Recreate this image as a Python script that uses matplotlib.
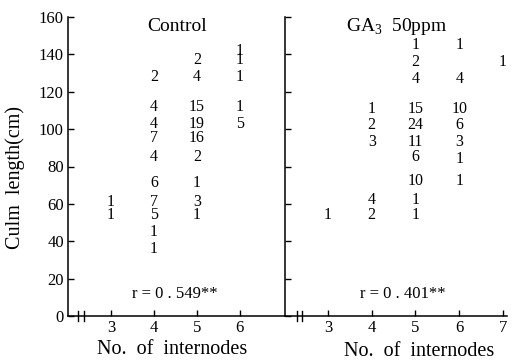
import matplotlib
matplotlib.use("Agg")
import matplotlib.pyplot as plt

plt.rcParams['font.family'] = ['Liberation Serif', 'DejaVu Serif']
plt.rcParams['mathtext.fontset'] = 'custom'
plt.rcParams['mathtext.rm'] = 'Liberation Serif'

# counts of culms per (no. of internodes, culm length class)
ctrl_x = [3, 3,
          4, 4, 4, 4, 4, 4, 4, 4, 4, 4,
          5, 5, 5, 5, 5, 5, 5, 5, 5,
          6, 6, 6, 6, 6]
ctrl_y = [61, 54,
          128, 112, 103, 95, 85, 71, 61, 54, 45, 36,
          137, 128, 112, 103, 95, 85, 71, 61, 54,
          142, 137, 128, 112, 103]
ctrl_n = [1, 1,
          2, 4, 4, 7, 4, 6, 7, 5, 1, 1,
          2, 4, 15, 19, 16, 2, 1, 3, 1,
          1, 1, 1, 1, 5]

ga_x = [3,
        4, 4, 4, 4, 4,
        5, 5, 5, 5, 5, 5, 5, 5, 5, 5,
        6, 6, 6, 6, 6, 6, 6,
        7]
ga_y = [54,
        111, 102, 93, 62, 54,
        145, 136, 127, 111, 102, 93, 85, 72, 62, 54,
        145, 127, 111, 102, 93, 84, 72,
        136]
ga_n = [1,
        1, 2, 3, 4, 2,
        1, 2, 4, 15, 24, 11, 6, 10, 1, 1,
        1, 4, 10, 6, 3, 1, 1,
        1]

y_ticks = [0, 20, 40, 60, 80, 100, 120, 140, 160]
r_ctrl = "r = 0 . 549**"
r_ga = "r = 0 . 401**"

fig = plt.figure(figsize=(5.15, 3.61), dpi=100)
ax1 = fig.add_axes([68/515, 45/361, 217/515, 299/361])
ax2 = fig.add_axes([285/515, 45/361, 222/515, 299/361])

def panel(ax, xs, ys, ns, xticks, xlim, title, tx, rtext, rx, breaks, labels=True):
    ax.set_xlim(*xlim)
    ax.set_ylim(0, 160)
    for s in ['top', 'right']:
        ax.spines[s].set_visible(False)
    for s in ['left', 'bottom']:
        ax.spines[s].set_linewidth(1.1)
    ax.set_xticks(xticks)
    ax.set_yticks(y_ticks)
    ax.tick_params(direction='in', length=4, width=1, labelsize=12, pad=3)
    if not labels:
        ax.set_yticklabels([])
    for x, y, n in zip(xs, ys, ns):
        ax.text(x, y, str(n), ha='center', va='center', fontsize=11.5)
    ax.text(tx, 155, title, ha='center', va='center', fontsize=14)
    ax.text(rx, 12, rtext, ha='center', va='center', fontsize=12)
    for b in breaks:
        ax.plot([b, b], [-2.5, 2.5], color='black', lw=1, clip_on=False)
    ax.set_facecolor('none')

panel(ax1, ctrl_x, ctrl_y, ctrl_n, [3, 4, 5, 6], (2.0, 7.05), "Control", 4.53,
      r_ctrl, 4.49, [2.23, 2.37])
panel(ax2, ga_x, ga_y, ga_n, [3, 4, 5, 6, 7], (2.02, 7.09), r"GA$_{3}$  50ppm", 4.58,
      r_ga, 4.72, [2.29, 2.40], labels=False)

fig.text(15/515, 1 - 178/361, "Culm  length(cm)", rotation=90, ha='center', va='center', fontsize=14.5)
fig.text(172/515, 1 - 350/361, "No.  of  internodes", ha='center', va='center', fontsize=14.5)
fig.text(419/515, 1 - 352/361, "No.  of  internodes", ha='center', va='center', fontsize=14.5)

fig.savefig("out.png", dpi=100)
